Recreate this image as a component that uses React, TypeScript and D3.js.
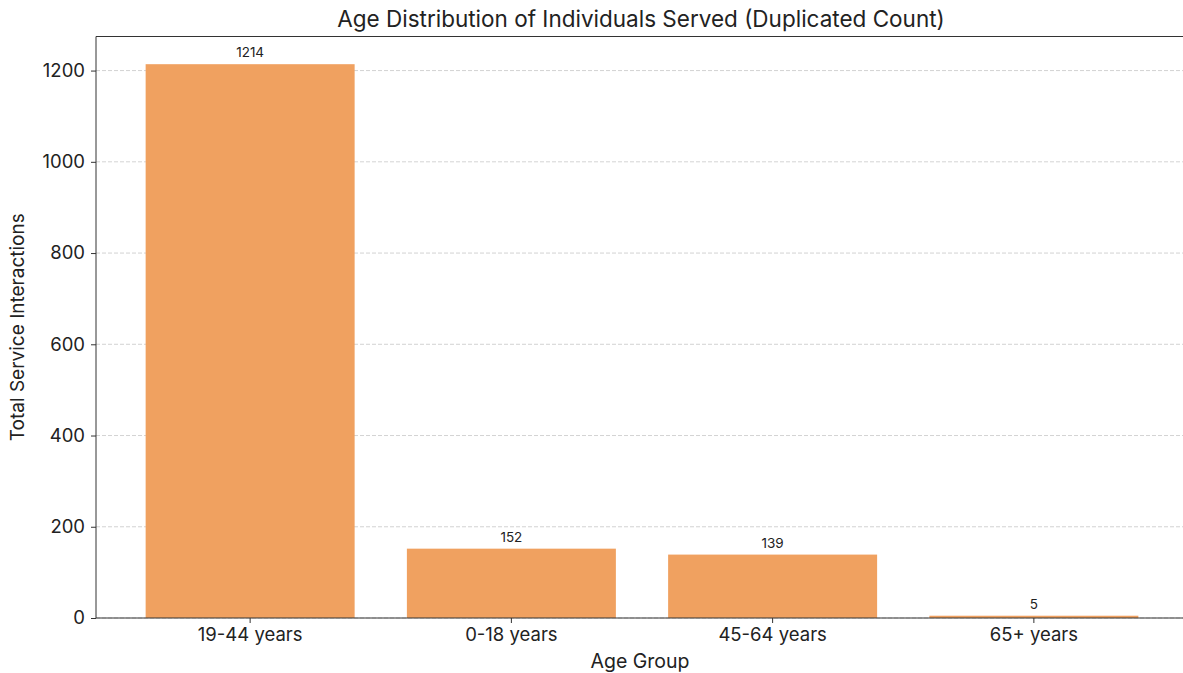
import React, { useEffect, useRef } from "react";
import * as d3 from "d3";

const ageGroups = ["19-44 years", "0-18 years", "45-64 years", "65+ years"];
const interactions = [1214, 152, 139, 5];
const yTicks = [0, 200, 400, 600, 800, 1000, 1200];

const W = 1183;
const H = 673;
const FONT = "Inter, 'Noto Sans', sans-serif";

export default function App() {
  const ref = useRef<SVGSVGElement>(null);

  useEffect(() => {
    const svg = d3.select(ref.current);
    svg.selectAll("*").remove();

    const left = 96, right = 1188, top = 36.5, bottom = 618;
    const data = ageGroups.map((g, i) => ({ g, v: interactions[i] }));

    const x = d3.scaleBand()
      .domain(ageGroups)
      .range([left, right])
      .paddingInner(0.2)
      .paddingOuter(0.19);

    const ymax = d3.max(interactions)! * 1.05;
    const y = d3.scaleLinear().domain([0, ymax]).range([bottom, top]);

    // grid
    svg.append("g")
      .selectAll("line")
      .data(yTicks)
      .enter().append("line")
      .attr("x1", left).attr("x2", W)
      .attr("y1", d => y(d)).attr("y2", d => y(d))
      .attr("stroke", "#b0b0b0")
      .attr("stroke-opacity", 0.7)
      .attr("stroke-width", 0.8)
      .attr("stroke-dasharray", "4,2");

    // bars
    svg.append("g")
      .selectAll("rect")
      .data(data)
      .enter().append("rect")
      .attr("x", d => x(d.g)!)
      .attr("y", d => y(d.v))
      .attr("width", x.bandwidth())
      .attr("height", d => bottom - y(d.v))
      .attr("fill", "#f0a160");

    // value labels
    svg.append("g")
      .selectAll("text")
      .data(data)
      .enter().append("text")
      .attr("x", d => x(d.g)! + x.bandwidth() / 2)
      .attr("y", d => y(d.v) - 7)
      .attr("text-anchor", "middle")
      .style("font-family", FONT)
      .style("font-size", "13.5px")
      .attr("fill", "#222")
      .text(d => d.v);

    // top spine
    svg.append("line")
      .attr("x1", left).attr("x2", W).attr("y1", top).attr("y2", top)
      .attr("stroke", "#333").attr("stroke-width", 1);

    // axes
    const yAxis = svg.append("g")
      .attr("transform", `translate(${left},0)`)
      .call(d3.axisLeft(y).tickValues(yTicks).tickFormat(d3.format("d"))
        .tickSizeInner(5).tickSizeOuter(0).tickPadding(6));
    yAxis.select(".domain").attr("d", `M0,${top}V${bottom}`);
    const xAxis = svg.append("g")
      .attr("transform", `translate(0,${bottom})`)
      .call(d3.axisBottom(x).tickSizeInner(5).tickSizeOuter(0).tickPadding(5));
    xAxis.select(".domain").attr("d", `M${left},0H${W}`);
    [yAxis, xAxis].forEach(a => {
      a.select(".domain").attr("stroke", "#333");
      a.selectAll(".tick line").attr("stroke", "#333");
      a.selectAll("text")
        .style("font-family", FONT)
        .style("font-size", "18.5px")
        .attr("fill", "#222");
    });

    svg.append("text")
      .attr("x", 641).attr("y", 27)
      .attr("text-anchor", "middle")
      .style("font-family", FONT)
      .style("font-size", "22.5px")
      .attr("fill", "#222")
      .text("Age Distribution of Individuals Served (Duplicated Count)");

    svg.append("text")
      .attr("x", 640).attr("y", 668)
      .attr("text-anchor", "middle")
      .style("font-family", FONT)
      .style("font-size", "19.5px")
      .attr("fill", "#222")
      .text("Age Group");

    svg.append("text")
      .attr("transform", `translate(24,${(top + bottom) / 2}) rotate(-90)`)
      .attr("text-anchor", "middle")
      .style("font-family", FONT)
      .style("font-size", "19px")
      .attr("fill", "#222")
      .text("Total Service Interactions");
  }, []);

  return (
    <svg
      ref={ref}
      width={W}
      height={H}
      style={{ position: "absolute", left: 0, top: 0, background: "#fff" }}
    />
  );
}
